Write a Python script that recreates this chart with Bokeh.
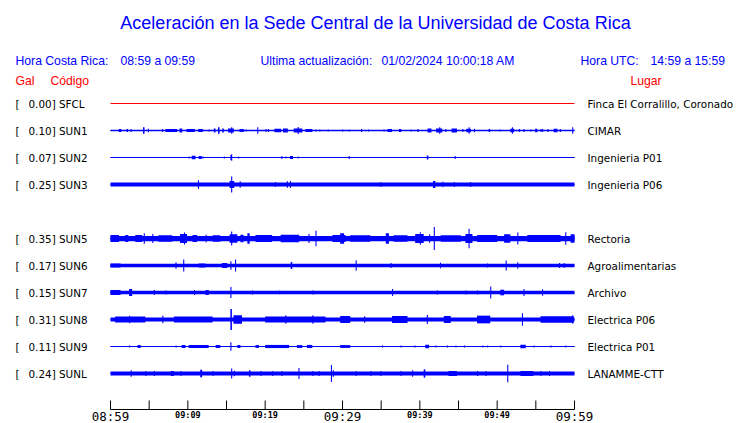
from bokeh.plotting import figure
from bokeh.models import Range1d
from bokeh.core.properties import value
from bokeh.embed import file_html
from bokeh.resources import INLINE

# ---------------- data ----------------
TITLE = "Aceleración en la Sede Central de la Universidad de Costa Rica"
HORA_CR = "08:59 a 09:59"
ACTUALIZACION = "01/02/2024 10:00:18 AM"
HORA_UTC = "14:59 a 15:59"

stations = ["SFCL", "SUN1", "SUN2", "SUN3", "SUN5", "SUN6", "SUN7", "SUN8", "SUN9", "SUNL"]
row_index = [0, 1, 2, 3, 5, 6, 7, 8, 9, 10]
peak_gal = [0.00, 0.10, 0.07, 0.25, 0.35, 0.17, 0.15, 0.31, 0.11, 0.24]
places = ["Finca El Corralillo, Coronado", "CIMAR", "Ingenieria P01", "Ingenieria P06",
          "Rectoria", "Agroalimentarias", "Archivo", "Electrica P06", "Electrica P01", "LANAMME-CTT"]

# background (continuous) amplitude of each trace, Gal
base_gal = [0.0, 0.02, 0.015, 0.055, 0.075, 0.05, 0.05, 0.06, 0.015, 0.055]

# bursts: (start minute after 08:59, end minute, half amplitude in Gal)
ev_SFCL = []
ev_SUN1 = [(1.07, 1.4, 0.04), (2.07, 2.28, 0.04), (2.59, 2.59, 0.04), (4.2, 4.4, 0.09), (4.83, 4.83, 0.05),
           (6.68, 6.68, 0.04), (7.11, 8.62, 0.045), (8.92, 9.27, 0.06), (9.83, 10.9, 0.045), (11.34, 11.94, 0.045),
           (12.7, 12.7, 0.03), (13.36, 13.58, 0.06), (13.9, 14.1, 0.09), (14.44, 14.65, 0.06), (15.2, 15.95, 0.06),
           (15.6, 15.6, 0.09), (16.68, 17.24, 0.045), (17.46, 17.46, 0.03), (18.97, 18.97, 0.09), (20.04, 20.04, 0.04),
           (20.34, 20.34, 0.04), (21.2, 22.07, 0.05), (22.3, 22.93, 0.06), (23.7, 24.8, 0.06), (24.2, 24.2, 0.1),
           (25.2, 26.1, 0.045), (26.5, 26.5, 0.03), (27.0, 27.0, 0.03), (28.1, 28.1, 0.03), (29.96, 29.96, 0.03),
           (30.8, 30.8, 0.03), (32.4, 32.4, 0.04), (33.3, 33.3, 0.03), (35.3, 35.3, 0.03), (35.8, 36.4, 0.045),
           (37.3, 37.6, 0.04), (38.8, 38.8, 0.03), (39.7, 39.7, 0.04), (41.0, 41.5, 0.06), (42.1, 42.9, 0.06),
           (42.5, 42.5, 0.09), (43.3, 43.3, 0.04), (44.1, 44.8, 0.06), (45.5, 45.5, 0.04), (46.0, 46.6, 0.05),
           (46.3, 46.3, 0.09), (47.0, 47.0, 0.05), (48.9, 49.1, 0.045), (50.3, 50.3, 0.03), (51.7, 52.2, 0.05),
           (51.9, 51.9, 0.09), (52.8, 52.8, 0.04), (53.4, 53.4, 0.04), (54.3, 54.3, 0.03), (54.9, 55.2, 0.05),
           (55.6, 55.6, 0.04), (55.8, 55.8, 0.04), (56.5, 56.5, 0.04), (57.3, 57.8, 0.05), (58.1, 58.1, 0.04),
           (59.7, 59.7, 0.09)]
ev_SUN2 = [(10.1, 10.1, 0.03), (10.5, 11.0, 0.05), (11.4, 11.8, 0.045), (11.9, 11.9, 0.03), (14.65, 14.65, 0.03),
           (15.5, 15.7, 0.07), (15.6, 15.6, 0.09), (16.5, 16.5, 0.03), (22.1, 22.1, 0.04), (22.6, 22.6, 0.03),
           (23.2, 23.6, 0.04), (24.2, 24.2, 0.03), (30.8, 30.8, 0.04), (40.9, 41.1, 0.06), (44.5, 44.5, 0.04)]
ev_SUN3 = [(11.3, 11.3, 0.12), (15.4, 16.0, 0.1), (15.6, 15.6, 0.23), (16.7, 16.7, 0.09), (21.25, 21.25, 0.07),
           (22.8, 22.8, 0.09), (23.2, 23.2, 0.1), (34.9, 34.9, 0.07), (41.7, 42.0, 0.1), (42.9, 42.9, 0.08),
           (44.4, 44.4, 0.07), (46.5, 46.5, 0.07)]
ev_SUN5 = [(0.0, 1.1, 0.1), (1.9, 2.3, 0.1), (3.2, 4.1, 0.1), (4.3, 4.3, 0.15), (5.4, 5.4, 0.13), (6.2, 8.0, 0.09),
           (9.0, 9.9, 0.13), (9.5, 9.5, 0.17), (10.6, 11.2, 0.1), (12.3, 12.3, 0.11), (13.2, 14.2, 0.09),
           (15.4, 16.4, 0.12), (15.6, 15.6, 0.2), (16.8, 17.2, 0.11), (17.7, 18.0, 0.15), (18.75, 20.9, 0.1),
           (22.0, 24.4, 0.11), (25.6, 25.6, 0.13), (26.5, 26.5, 0.22), (28.7, 30.4, 0.1), (29.7, 30.2, 0.15),
           (31.0, 33.6, 0.09), (35.6, 36.0, 0.15), (36.6, 38.4, 0.09), (39.4, 40.5, 0.13), (40.0, 40.0, 0.18),
           (41.2, 41.2, 0.12), (41.8, 41.8, 0.33), (42.7, 45.3, 0.09), (45.9, 46.8, 0.13), (46.3, 46.3, 0.28),
           (47.4, 50.0, 0.1), (50.9, 51.7, 0.12), (52.6, 52.6, 0.17), (53.9, 58.2, 0.1), (58.8, 58.8, 0.18),
           (59.5, 60.0, 0.12)]
ev_SUN6 = [(0.0, 1.3, 0.06), (8.4, 8.4, 0.09), (9.4, 9.4, 0.17), (11.4, 12.3, 0.06), (14.4, 15.1, 0.07),
           (15.5, 15.5, 0.12), (16.1, 16.1, 0.17), (23.3, 23.5, 0.1), (31.7, 31.7, 0.15), (36.2, 36.2, 0.07),
           (42.6, 42.6, 0.08), (48.7, 48.7, 0.06), (51.1, 51.1, 0.14), (52.6, 52.6, 0.09), (58.0, 58.0, 0.07),
           (58.6, 58.6, 0.07)]
ev_SUN7 = [(0.0, 1.3, 0.07), (2.4, 2.8, 0.1), (5.6, 5.6, 0.07), (7.1, 7.1, 0.06), (10.8, 10.8, 0.07),
           (12.3, 12.7, 0.07), (15.5, 15.5, 0.16), (18.3, 18.3, 0.06), (21.8, 21.8, 0.05), (26.1, 26.1, 0.06),
           (36.4, 36.4, 0.1), (42.2, 42.2, 0.06), (45.9, 45.9, 0.06), (47.4, 47.4, 0.06), (49.1, 49.1, 0.17),
           (50.4, 50.9, 0.08), (53.4, 53.4, 0.1), (55.8, 55.8, 0.09)]
ev_SUN8 = [(0.6, 4.5, 0.085), (2.4, 2.4, 0.11), (6.7, 6.7, 0.11), (8.2, 13.2, 0.085), (15.5, 15.7, 0.3),
           (15.9, 17.0, 0.12), (20.0, 27.8, 0.085), (22.6, 22.6, 0.12), (26.1, 26.1, 0.12), (29.7, 31.0, 0.1),
           (32.8, 32.8, 0.09), (36.4, 38.4, 0.1), (40.9, 40.9, 0.13), (43.1, 44.0, 0.1), (47.4, 49.1, 0.11),
           (53.2, 53.2, 0.18), (55.6, 59.9, 0.09), (59.7, 59.7, 0.12)]
ev_SUN9 = [(2.4, 2.4, 0.03), (3.5, 3.9, 0.04), (8.4, 8.4, 0.03), (9.2, 9.7, 0.04), (10.1, 12.7, 0.045),
           (13.6, 14.2, 0.04), (15.5, 15.5, 0.12), (16.4, 16.8, 0.04), (18.75, 19.2, 0.04), (20.0, 23.1, 0.045),
           (24.1, 24.8, 0.04), (25.4, 26.1, 0.045), (30.0, 30.0, 0.04), (29.7, 31.0, 0.04), (35.1, 35.1, 0.03),
           (37.5, 37.5, 0.03), (39.3, 39.3, 0.03), (40.7, 41.2, 0.05), (42.0, 42.0, 0.03), (43.5, 43.5, 0.03),
           (44.6, 44.6, 0.03), (45.7, 45.7, 0.03), (48.1, 48.1, 0.03), (48.7, 48.7, 0.03), (50.4, 50.4, 0.03),
           (53.0, 53.7, 0.05), (54.7, 54.7, 0.03), (56.9, 56.9, 0.03), (58.8, 58.8, 0.03)]
ev_SUNL = [(2.6, 2.6, 0.09), (4.5, 4.5, 0.07), (5.6, 5.6, 0.07), (7.8, 8.2, 0.07), (9.05, 9.05, 0.07),
           (11.6, 11.85, 0.11), (13.2, 13.2, 0.07), (15.6, 15.6, 0.14), (15.95, 15.95, 0.08), (17.9, 18.1, 0.09),
           (19.4, 19.4, 0.07), (20.9, 20.9, 0.07), (22.1, 22.1, 0.07), (24.3, 24.3, 0.16), (26.1, 26.1, 0.07),
           (26.9, 26.9, 0.07), (28.5, 28.5, 0.24), (28.75, 28.75, 0.09), (31.7, 31.7, 0.07), (33.6, 33.6, 0.07),
           (34.9, 34.9, 0.07), (37.5, 37.5, 0.07), (39.0, 39.0, 0.09), (40.5, 40.7, 0.12), (43.7, 44.8, 0.07),
           (47.4, 47.4, 0.07), (48.5, 48.5, 0.07), (51.3, 51.3, 0.25), (53.0, 54.7, 0.07), (55.6, 55.6, 0.07),
           (56.7, 56.7, 0.07)]
events = [ev_SFCL, ev_SUN1, ev_SUN2, ev_SUN3, ev_SUN5, ev_SUN6, ev_SUN7, ev_SUN8, ev_SUN9, ev_SUNL]

tick_minutes = [0, 5, 10, 15, 20, 25, 30, 35, 40, 45, 50, 55, 60]
big_tick_minutes = [0, 30, 60]
big_tick_labels = ["08:59", "09:29", "09:59"]
small_tick_minutes = [10, 20, 40, 50]
small_tick_labels = ["09:09", "09:19", "09:39", "09:49"]

# ---------------- layout ----------------
W, H = 740, 423
X0, X1 = 110, 574           # pixel span of the 60-minute window
K = (X1 - X0) / 60.0        # px per minute
ROW0, ROW_STEP = 103, 27    # pixel y of first trace, spacing
GAL_PX = 35.0               # px per Gal
BLUE = "#0000ff"
RED = "#ff0000"


def tx(px):
    """pixel x of the canvas -> minutes"""
    return (px - X0) / K


p = figure(width=W, height=H, output_backend="svg", toolbar_location=None,
           x_range=Range1d(tx(0), tx(W)), y_range=Range1d(H, 0),
           x_axis_location=None, y_axis_location=None, min_border=0,
           outline_line_color=None, background_fill_color="white", border_fill_color="white")
p.xgrid.visible = False
p.ygrid.visible = False

# traces
for st, ri, base, evs in zip(stations, row_index, base_gal, events):
    yc = ROW0 + ROW_STEP * ri
    if st == "SFCL":
        p.segment(x0=[0], y0=[yc], x1=[60], y1=[yc], line_color=RED, line_width=1)
        continue
    p.segment(x0=[0], y0=[yc], x1=[60], y1=[yc], line_color=BLUE, line_width=1)
    if base > 0:
        h = base * GAL_PX
        p.quad(left=[0], right=[60], top=[yc - h], bottom=[yc + h], fill_color=BLUE, line_color=None)
    if evs:
        lefts = [e[0] for e in evs]
        rights = [max(e[1], e[0] + 0.14) for e in evs]
        tops = [yc - e[2] * GAL_PX for e in evs]
        bots = [yc + e[2] * GAL_PX for e in evs]
        p.quad(left=lefts, right=rights, top=tops, bottom=bots, fill_color=BLUE, line_color=None)

# station labels
lab_font = value("DejaVu Sans")
LFS = "10.4px"
ys = [ROW0 + ROW_STEP * r for r in row_index]
p.text(x=[tx(15)] * len(ys), y=ys, text=["["] * len(ys), text_font=lab_font, text_font_size=LFS,
       text_color="black", text_baseline="middle")
p.text(x=[tx(28)] * len(ys), y=ys, text=["%.2f] %s" % (g, s) for g, s in zip(peak_gal, stations)],
       text_font=lab_font, text_font_size=LFS, text_color="black", text_baseline="middle")
p.text(x=[tx(587)] * len(ys), y=ys, text=places, text_font=lab_font, text_font_size=LFS,
       text_color="black", text_baseline="middle")

# headers
hf = value("Liberation Sans")
p.text(x=[tx(375)], y=[22], text=[TITLE], text_font=hf, text_font_size="18px", text_color=BLUE,
       text_align="center", text_baseline="middle")
p.text(x=[tx(15), tx(120), tx(260), tx(381), tx(580), tx(650)], y=[60] * 6,
       text=["Hora Costa Rica:", HORA_CR, "Ultima actualización:", ACTUALIZACION, "Hora UTC:", HORA_UTC],
       text_font=hf, text_font_size="12.2px", text_color=BLUE, text_baseline="middle")
p.text(x=[tx(15), tx(50), tx(630)], y=[80] * 3, text=["Gal", "Código", "Lugar"],
       text_font=hf, text_font_size="12.2px", text_color=RED, text_baseline="middle")

# time axis
AX_Y = 409
p.segment(x0=[0], y0=[AX_Y], x1=[60], y1=[AX_Y], line_color="black", line_width=1)
p.segment(x0=tick_minutes, y0=[AX_Y - 9] * len(tick_minutes), x1=tick_minutes, y1=[AX_Y] * len(tick_minutes),
          line_color="black", line_width=1)
mono = value("DejaVu Sans Mono")
p.text(x=big_tick_minutes, y=[415.5] * 3, text=big_tick_labels, text_font=mono, text_font_size="12.5px",
       text_color="black", text_align="center", text_baseline="middle")
p.text(x=small_tick_minutes, y=[414.5] * 4, text=small_tick_labels, text_font=mono, text_font_size="8.5px",
       text_font_style="bold", text_color="black", text_align="center", text_baseline="middle")

open("out.html", "w").write(file_html(p, INLINE))
